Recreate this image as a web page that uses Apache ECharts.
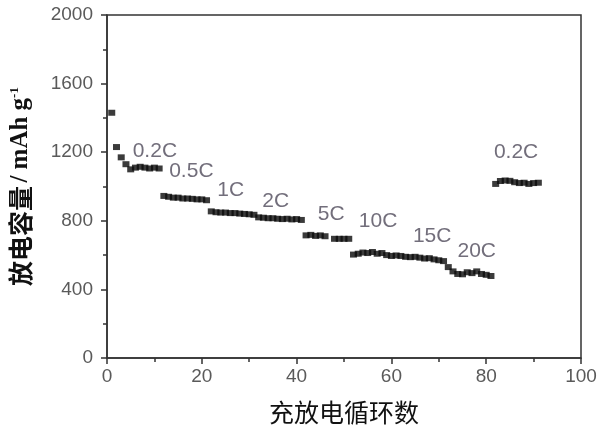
<!DOCTYPE html>
<html>
<head>
<meta charset="utf-8">
<script src="https://cdn.jsdelivr.net/npm/echarts@6/dist/echarts.min.js"></script>
<style>html,body{margin:0;padding:0;background:#fff;}#c{width:600px;height:430px;}</style>
</head>
<body>
<div id="c"></div>
<script>
// Cycle numbers and discharge capacity (mAh g^-1)
var cycles = [];
for (var i = 1; i <= 91; i++) cycles.push(i);
var capacity = [
  1430, 1230, 1170, 1130, 1100, 1110, 1115, 1110, 1105, 1110, 1105,   // 0.2C (1-11)
  945, 940, 935, 935, 930, 930, 928, 925, 925, 920,                   // 0.5C (12-21)
  855, 850, 848, 848, 845, 845, 842, 840, 838, 835,                   // 1C (22-31)
  820, 818, 815, 815, 812, 810, 812, 808, 810, 805,                   // 2C (32-41)
  715, 718, 712, 715, 710, null, 695, 695, 695, 695,                  // 5C (42-51)
  603, 608, 615, 612, 618, 608, 612, 600, 595, 598,                   // 10C (52-61)
  595, 590, 588, 590, 585, 580, 582, 575, 570, 565,                   // 15C (62-71)
  530, 505, 490, 488, 500, 495, 505, 490, 485, 478,                   // 20C (72-81)
  1015, 1032, 1035, 1033, 1025, 1020, 1022, 1015, 1020, 1022          // 0.2C (82-91)
];
// Rate annotations
var rateLabels = ['0.2C', '0.5C', '1C', '2C', '5C', '10C', '15C', '20C', '0.2C'];
var rateLabelCycle = [10.1, 17.8, 26.1, 35.6, 47.3, 57.2, 68.6, 78.0, 86.3];
var rateLabelCap = [1203, 1087, 980, 913, 837, 797, 709, 622, 1198];

var xTicks = [0, 20, 40, 60, 80, 100];
var yTicks = [0, 400, 800, 1200, 1600, 2000];

var pts = cycles.map(function (c, i) { return [c, capacity[i]]; });
var labelPts = rateLabels.map(function (t, i) {
  return { value: [rateLabelCycle[i], rateLabelCap[i]], name: t };
});

var chart = echarts.init(document.getElementById('c'), null, { renderer: 'canvas' });
chart.setOption({
  backgroundColor: '#ffffff',
  animation: false,
  grid: { left: 107, right: 19, top: 15, bottom: 71, show: true, borderColor: '#333', borderWidth: 1.5, backgroundColor: 'transparent' },
  xAxis: {
    type: 'value', min: xTicks[0], max: xTicks[xTicks.length - 1], interval: 20,
    name: '充放电循环数', nameLocation: 'middle', nameGap: 42,
    nameTextStyle: { fontFamily: 'Noto Sans CJK SC', fontSize: 25, color: '#111' },
    axisLine: { lineStyle: { color: '#333', width: 1.5 } },
    axisTick: { inside: false, length: 6, lineStyle: { color: '#333', width: 1.5 } },
    minorTick: { show: true, splitNumber: 2, length: 4, lineStyle: { color: '#333', width: 1.5 } },
    axisLabel: { fontFamily: 'Liberation Sans', fontSize: 19, color: '#5a5a5a', margin: 9, formatter: function (v) { return String(v); } },
    splitLine: { show: false }
  },
  yAxis: {
    type: 'value', min: yTicks[0], max: yTicks[yTicks.length - 1], interval: 400,
    name: '{a|放电容量} {b|/ mAh g}{c|-1}', nameLocation: 'middle', nameGap: 74,
    nameTextStyle: {
      rich: {
        a: { fontFamily: 'Noto Sans CJK SC', fontWeight: 'bold', fontSize: 25, color: '#111' },
        b: { fontFamily: 'Liberation Serif', fontWeight: 'bold', fontSize: 25, color: '#111' },
        c: { fontFamily: 'Liberation Serif', fontWeight: 'bold', fontSize: 13, color: '#111', verticalAlign: 'top', padding: [0, 0, 12, 0] }
      }
    },
    axisLine: { lineStyle: { color: '#333', width: 1.5 } },
    axisTick: { inside: false, length: 6, lineStyle: { color: '#333', width: 1.5 } },
    minorTick: { show: true, splitNumber: 2, length: 4, lineStyle: { color: '#333', width: 1.5 } },
    axisLabel: { fontFamily: 'Liberation Sans', fontSize: 19, color: '#5a5a5a', margin: 14, formatter: function (v) { return String(v); } },
    splitLine: { show: false }
  },
  series: [
    {
      type: 'scatter', data: pts, symbol: 'rect', symbolSize: [7, 6],
      itemStyle: { color: '#0a0a0a' }
    },
    {
      type: 'scatter', data: labelPts, symbolSize: 0, silent: true,
      label: {
        show: true, position: 'inside', formatter: '{b}',
        fontFamily: 'Liberation Sans', fontSize: 21, color: '#4f4a5a'
      }
    }
  ]
});
</script>
</body>
</html>
